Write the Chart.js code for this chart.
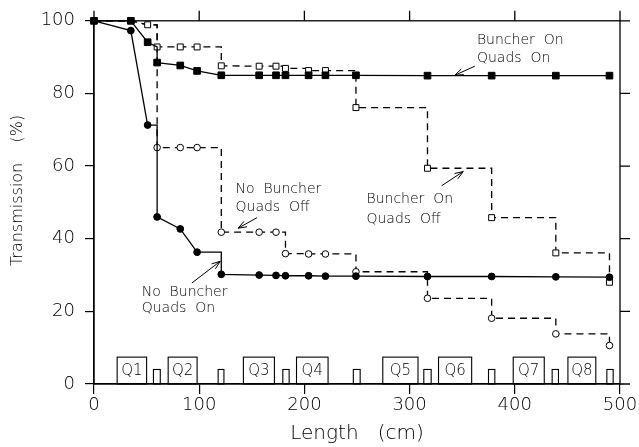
<!DOCTYPE html>
<html>
<head>
<meta charset="utf-8">
<script src="https://cdn.jsdelivr.net/npm/chart.js@4.4.0/dist/chart.umd.min.js"></script>
<style>
  html, body { margin: 0; padding: 0; background: #fff; }
</style>
</head>
<body>
<canvas id="chart" width="639" height="447"></canvas>
<script>
const FAMILY = "'DejaVu Sans', sans-serif";
const WEIGHT = 200;

// Transmission (%) along the beamline, length in cm
const bOnQOnX = [0, 35, 51, 60, 60, 82, 98, 121, 157, 173, 182, 204, 220, 249, 317, 378, 439, 490];
const bOnQOnY = [100, 100, 94.1, 92.8, 88.5, 87.7, 86.2, 85.0, 85.0, 85.0, 85.0, 85.0, 85.0, 85.0, 84.9, 84.9, 84.9, 84.9];

const nbQOnX = [0, 35, 51, 60, 82, 98, 121, 157, 173, 182, 204, 220, 249, 317, 378, 439, 490];
const nbQOnY = [100, 97.3, 71.3, 46.0, 42.7, 36.3, 30.2, 30.0, 29.9, 29.8, 29.8, 29.7, 29.7, 29.6, 29.6, 29.5, 29.4];

const bOnQOffX = [0, 35, 51, 60, 82, 98, 121, 157, 173, 182, 204, 220, 249, 317, 378, 439, 490];
const bOnQOffY = [100, 100, 98.9, 92.8, 92.8, 92.8, 87.6, 87.5, 87.5, 86.9, 86.3, 86.3, 76.1, 59.4, 45.8, 36.1, 28.0];

const nbQOffX = [0, 35, 51, 60, 82, 98, 121, 157, 173, 182, 204, 220, 249, 317, 378, 439, 490];
const nbQOffY = [100, 100, 98.9, 65.1, 65.1, 65.1, 41.8, 41.8, 41.8, 35.9, 35.8, 35.8, 30.9, 23.6, 18.1, 13.8, 10.6];

// which readings are reached by a drop at an aperture (horizontal then vertical)
const nbQOnSteps = [3, 6];
const offSteps = [3, 6, 9, 10, 12, 13, 14, 15, 16];
// readings drawn without a marker
const bOnQOnHidden = [3];
const nbQOffHidden = [0, 1, 2];

// quadrupoles (cm) and apertures
const quadLabels = ["Q1", "Q2", "Q3", "Q4", "Q5", "Q6", "Q7", "Q8"];
const quadFrom = [22, 70.5, 142, 192.5, 274.5, 327.5, 398.5, 450.5];
const quadTo = [50, 98, 171.5, 222.5, 308, 359, 428, 477];
const quadTop = 7.4;
const slitFrom = [56.5, 118, 179.5, 246.5, 313.5, 375, 435.5, 487.5];
const slitTo = [63, 123.5, 185.5, 253, 320.5, 381, 441.5, 493.5];
const slitTop = 4.0;

// labels: [text line 1, text line 2, x, y line1, y line2, arrow from x,y, arrow to x,y]
const notes = [
  ["Buncher  On", "Quads  On", 364, 94.6, 89.6, 362, 87.5, 343, 85.0],
  ["Buncher  On", "Quads  Off", 259, 50.8, 45.4, 330.5, 54.6, 351, 58.5],
  ["No  Buncher", "Quads  Off", 134.5, 53.7, 48.7, 155, 45.8, 137, 42.9],
  ["No  Buncher", "Quads  On", 45.3, 25.1, 20.7, 93, 27.8, 120, 33.8]
];

function trace(xs, ys, steps, hidden) {
  const pts = [];
  xs.forEach((x, i) => {
    if (steps.includes(i)) pts.push({ x: x, y: ys[i - 1], corner: true });
    pts.push({ x: x, y: ys[i], corner: hidden.includes(i) });
  });
  return pts;
}

function series(data, dashed, style, radius, fill, order) {
  return {
    data: data,
    order: order,
    borderColor: "#000",
    borderWidth: 1.3,
    borderDash: dashed ? [7, 5] : [],
    tension: 0,
    clip: false,
    pointStyle: style,
    pointRadius: (c) => (c.raw && c.raw.corner ? 0 : radius),
    pointBorderWidth: 1,
    pointBorderColor: "#000",
    pointBackgroundColor: fill,
  };
}

const decor = {
  id: "decor",
  beforeDatasetsDraw(chart) {
    const { ctx, chartArea: a, scales: { x, y } } = chart;
    ctx.save();
    ctx.strokeStyle = "#000";
    ctx.lineWidth = 1.1;
    ctx.fillStyle = "#000";
    ctx.font = WEIGHT + " 15px " + FAMILY;
    ctx.textAlign = "center";
    ctx.textBaseline = "middle";
    quadLabels.forEach((q, i) => {
      const l = x.getPixelForValue(quadFrom[i]), r = x.getPixelForValue(quadTo[i]);
      const t = y.getPixelForValue(quadTop), b = y.getPixelForValue(0);
      ctx.strokeRect(l, t, r - l, b - t);
      ctx.fillText(q, (l + r) / 2, (t + b) / 2 + 1);
    });
    slitFrom.forEach((s, i) => {
      const l = x.getPixelForValue(s), r = x.getPixelForValue(slitTo[i]);
      const t = y.getPixelForValue(slitTop), b = y.getPixelForValue(0);
      ctx.strokeRect(l, t, r - l, b - t);
    });

    // y axis title, sits a little above the middle
    ctx.font = WEIGHT + " 16px " + FAMILY;
    ctx.translate(18, a.top + (a.bottom - a.top) / 2 - 12);
    ctx.rotate(-Math.PI / 2);
    ctx.fillText("Transmission    (%)", 0, 0);
    ctx.restore();
  },
  afterDatasetsDraw(chart) {
    const { ctx, chartArea: a, scales: { x, y } } = chart;
    ctx.save();
    ctx.strokeStyle = "#000";
    ctx.lineWidth = 1.3;
    ctx.strokeRect(a.left, a.top, a.right - a.left, a.bottom - a.top);
    // mirrored ticks, top and right
    ctx.beginPath();
    x.ticks.forEach((t) => {
      const px = x.getPixelForValue(t.value);
      ctx.moveTo(px, a.top);
      ctx.lineTo(px, a.top - 10);
    });
    y.ticks.forEach((t) => {
      const py = y.getPixelForValue(t.value);
      ctx.moveTo(a.right, py);
      ctx.lineTo(a.right + 10, py);
    });
    ctx.stroke();

    // notes with arrows
    ctx.fillStyle = "#000";
    ctx.font = WEIGHT + " 14px " + FAMILY;
    ctx.textAlign = "left";
    ctx.textBaseline = "middle";
    ctx.lineWidth = 1;
    notes.forEach((n) => {
      const tx = x.getPixelForValue(n[2]);
      ctx.fillText(n[0], tx, y.getPixelForValue(n[3]));
      ctx.fillText(n[1], tx, y.getPixelForValue(n[4]));
      const x0 = x.getPixelForValue(n[5]), y0 = y.getPixelForValue(n[6]);
      const x1 = x.getPixelForValue(n[7]), y1 = y.getPixelForValue(n[8]);
      const ang = Math.atan2(y1 - y0, x1 - x0);
      ctx.beginPath();
      ctx.moveTo(x0, y0);
      ctx.lineTo(x1, y1);
      [0.35, -0.35].forEach((d) => {
        ctx.moveTo(x1, y1);
        ctx.lineTo(x1 - 9 * Math.cos(ang + d), y1 - 9 * Math.sin(ang + d));
      });
      ctx.stroke();
    });
    ctx.restore();
  },
};

new Chart(document.getElementById("chart"), {
  type: "line",
  data: {
    datasets: [
      series(trace(bOnQOnX, bOnQOnY, [], bOnQOnHidden), false, "rect", 4.7, "#000", 1),
      series(trace(nbQOnX, nbQOnY, nbQOnSteps, []), false, "circle", 3.4, "#000", 2),
      series(trace(bOnQOffX, bOnQOffY, offSteps, []), true, "rect", 4.2, "#fff", 3),
      series(trace(nbQOffX, nbQOffY, offSteps, nbQOffHidden), true, "circle", 3.3, "#fff", 4),
    ],
  },
  options: {
    responsive: false,
    animation: false,
    layout: { padding: { top: 15, right: 19, bottom: 0, left: 0 } },
    plugins: { legend: { display: false }, tooltip: { enabled: false } },
    scales: {
      x: {
        type: "linear",
        min: 0,
        max: 500,
        ticks: { stepSize: 100, color: "#000", padding: 1, font: { family: FAMILY, size: 18, weight: WEIGHT } },
        grid: { drawOnChartArea: false, tickLength: 10, color: "#000", lineWidth: 1.2 },
        border: { color: "#000", width: 1.3 },
        title: {
          display: true,
          text: "Length   (cm)",
          color: "#000",
          padding: { top: 0, bottom: 1 },
          font: { family: FAMILY, size: 20, weight: WEIGHT, lineHeight: 1.2 },
        },
        afterFit: (s) => { s.height = 63; },
      },
      y: {
        min: 0,
        max: 100,
        ticks: { stepSize: 20, color: "#000", padding: 10, font: { family: FAMILY, size: 18, weight: WEIGHT } },
        grid: { drawOnChartArea: false, tickLength: 9, color: "#000", lineWidth: 1.2 },
        border: { color: "#000", width: 1.3 },
        afterFit: (s) => { s.width = 94; },
      },
    },
  },
  plugins: [decor],
});
</script>
</body>
</html>
